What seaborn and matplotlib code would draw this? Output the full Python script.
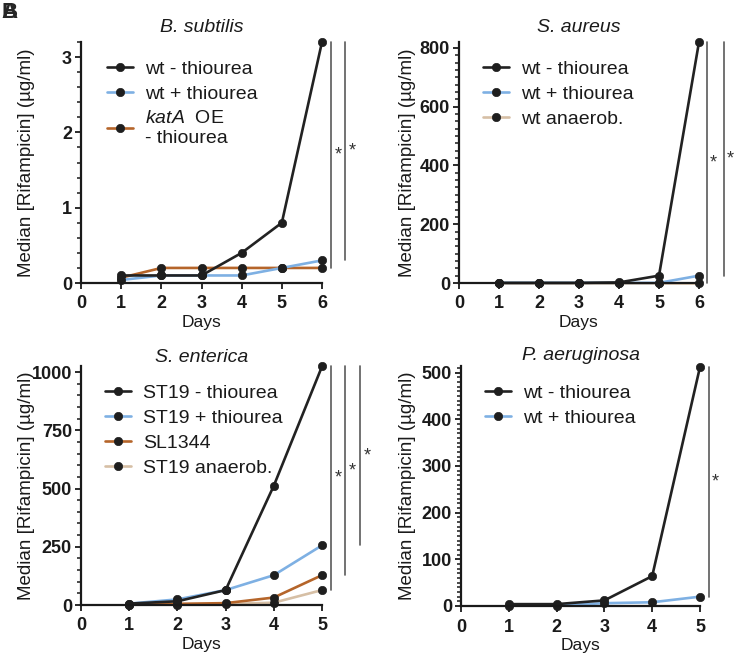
import matplotlib
matplotlib.use("Agg")
import matplotlib.pyplot as plt
import matplotlib.transforms as mtransforms
from matplotlib.ticker import MultipleLocator
import numpy as np
import pandas as pd
import seaborn as sns

# ---------------- data ----------------
days_top = [1, 2, 3, 4, 5, 6]
days_bottom = [1, 2, 3, 4, 5]

bsub_wt_minus = [0.1, 0.1, 0.1, 0.4, 0.8, 3.2]
bsub_wt_plus = [0.04, 0.1, 0.1, 0.1, 0.2, 0.3]
bsub_kata = [0.07, 0.2, 0.2, 0.2, 0.2, 0.2]

saur_wt_minus = [0.5, 0.5, 0.5, 2, 25, 820]
saur_wt_plus = [0.5, 0.5, 0.5, 0.5, 0.5, 25]
saur_anaerob = [0.5, 0.5, 0.5, 0.5, 0.5, 0.5]

sent_st19_minus = [6, 16, 64, 512, 1024]
sent_st19_plus = [6, 24, 64, 128, 256]
sent_sl1344 = [2, 5, 8, 32, 128]
sent_anaerob = [1, 2, 4, 10, 64]

paer_wt_minus = [4, 4, 12, 64, 512]
paer_wt_plus = [1, 1, 6, 8, 20]

titles = ["B. subtilis", "S. aureus", "S. enterica", "P. aeruginosa"]

# ---------------- style ----------------
sns.set_theme(style="ticks")
plt.rcParams["font.family"] = ["Liberation Sans", "DejaVu Sans"]
plt.rcParams["mathtext.fontset"] = "custom"
plt.rcParams["mathtext.it"] = "Liberation Sans:italic"
plt.rcParams["mathtext.rm"] = "Liberation Sans"

C_BLACK = "#222222"
C_BLUE = "#7eb0e3"
C_ORANGE = "#b5652a"
C_TAN = "#d6bfa5"
C_BRACKET = "#5a5a5a"
C_TEXT = "#1a1a1a"

W, H = 736, 661
fig = plt.figure(figsize=(W / 100, H / 100), dpi=100)


def rect(l, r, t, b):
    return [l / W, 1 - b / H, (r - l) / W, (b - t) / H]


panels = [
    dict(rect=rect(81, 322, 42, 283), days=days_top, xmax=6, ymax=3.2, major=1, minor=0.2,
         series=[("wt - thiourea", bsub_wt_minus, C_BLACK),
                 ("wt + thiourea", bsub_wt_plus, C_BLUE),
                 ("$\\it{katA}$  OE\n- thiourea", bsub_kata, C_ORANGE)],
         brackets=[(1.037, 1.066, bsub_wt_minus[-1], bsub_kata[-1]),
                   (1.095, 1.124, bsub_wt_minus[-1], bsub_wt_plus[-1])],
         leg=(0.108, 0.925), ylab_x=-0.19, title_pad=7),
    dict(rect=rect(459, 699, 42, 283), days=days_top, xmax=6, ymax=820, major=200, minor=25,
         series=[("wt - thiourea", saur_wt_minus, C_BLACK),
                 ("wt + thiourea", saur_wt_plus, C_BLUE),
                 ("wt anaerob.", saur_anaerob, C_TAN)],
         brackets=[(1.033, 1.058, saur_wt_minus[-1], 0),
                   (1.104, 1.129, saur_wt_minus[-1], saur_wt_plus[-1])],
         leg=(0.1, 0.925), ylab_x=-0.18, title_pad=7),
    dict(rect=rect(81, 322, 366, 605), days=days_bottom, xmax=5, ymax=1026, major=250, minor=50,
         series=[("ST19 - thiourea", sent_st19_minus, C_BLACK),
                 ("ST19 + thiourea", sent_st19_plus, C_BLUE),
                 ("SL1344", sent_sl1344, C_ORANGE),
                 ("ST19 anaerob.", sent_anaerob, C_TAN)],
         brackets=[(1.037, 1.066, sent_st19_minus[-1], sent_anaerob[-1]),
                   (1.095, 1.124, sent_st19_minus[-1], sent_sl1344[-1]),
                   (1.158, 1.187, sent_st19_minus[-1], sent_st19_plus[-1])],
         leg=(0.1, 0.925), ylab_x=-0.19, title_pad=2),
    dict(rect=rect(461, 700, 366, 606), days=days_bottom, xmax=5, ymax=514, major=100, minor=10,
         series=[("wt - thiourea", paer_wt_minus, C_BLACK),
                 ("wt + thiourea", paer_wt_plus, C_BLUE)],
         brackets=[(1.038, 1.063, paer_wt_minus[-1], paer_wt_plus[-1])],
         leg=(0.1, 0.925), ylab_x=-0.19, title_pad=4),
]

for title, p in zip(titles, panels):
    ax = fig.add_axes(p["rect"])
    n = len(p["series"])
    for i, (label, vals, color) in enumerate(p["series"]):
        df = pd.DataFrame({"Days": p["days"], "value": vals})
        sns.lineplot(data=df, x="Days", y="value", ax=ax, color=color, lw=1.9,
                     marker="o", markersize=6, markerfacecolor="#1e1e1e",
                     markeredgecolor="#1e1e1e", markeredgewidth=0.5,
                     label=label, clip_on=False, zorder=10 - i)
    ax.set_xlim(0, p["xmax"])
    ax.set_ylim(0, p["ymax"])
    ax.xaxis.set_major_locator(MultipleLocator(1))
    ax.yaxis.set_major_locator(MultipleLocator(p["major"]))
    ax.yaxis.set_minor_locator(MultipleLocator(p["minor"]))
    for s in ("top", "right"):
        ax.spines[s].set_visible(False)
    for s in ("left", "bottom"):
        ax.spines[s].set_linewidth(1.6)
        ax.spines[s].set_color(C_TEXT)
        ax.spines[s].set_zorder(12)
    ax.tick_params(axis="both", which="major", length=4.5, width=1.3, color=C_TEXT,
                   labelsize=13, pad=2)
    ax.tick_params(axis="x", which="major", pad=4.5)
    ax.tick_params(axis="y", which="minor", length=2.6, width=1.1, color=C_TEXT)
    for lab in ax.get_xticklabels() + ax.get_yticklabels():
        lab.set_fontweight("bold")
        lab.set_color(C_TEXT)
    ax.set_xlabel("Days", fontsize=12.5, labelpad=1.5, color=C_TEXT)
    ax.set_ylabel("Median [Rifampicin] (µg/ml)", fontsize=13.5, color=C_TEXT)
    ax.yaxis.set_label_coords(p["ylab_x"], 0.5)
    ax.set_title(title, fontsize=14, fontstyle="italic", pad=p["title_pad"], color=C_TEXT)

    leg = ax.legend(loc="upper left", bbox_to_anchor=p["leg"], frameon=False, fontsize=14,
                    handlelength=1.35, handletextpad=0.6, labelspacing=0.38,
                    borderpad=0, borderaxespad=0)
    for t in leg.get_texts():
        t.set_color(C_TEXT)

    trans = mtransforms.blended_transform_factory(ax.transAxes, ax.transData)
    for xl, xs, ytop, ybot in p["brackets"]:
        ax.plot([xl, xl], [ytop, ybot], transform=trans, color=C_BRACKET, lw=1.2,
                clip_on=False)
        ax.text(xs, (ytop + ybot) / 2, "*", transform=trans, ha="center", va="center",
                fontsize=13, color="#333333")

fig.text(0.002, 0.997, "A", fontsize=16, fontweight="bold", va="top", ha="left")
fig.text(0.002, 0.997, "B", fontsize=16, fontweight="bold", va="top", ha="left")

fig.savefig("out.png", dpi=100)
